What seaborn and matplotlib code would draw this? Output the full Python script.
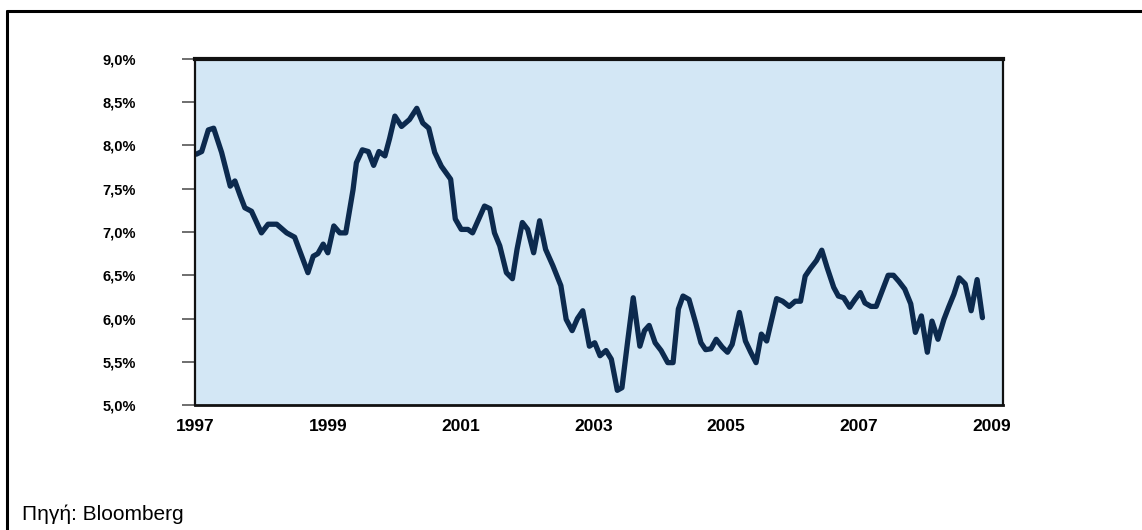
import matplotlib
matplotlib.use('Agg')
import seaborn as sns
import matplotlib.pyplot as plt
from matplotlib.lines import Line2D
import numpy as np
import pandas as pd

# data (decimal year, yield %)
years = [1997.02, 1997.10, 1997.20, 1997.28, 1997.40, 1997.53, 1997.60, 1997.68, 1997.75, 1997.85,
         1998.00, 1998.10, 1998.23, 1998.38, 1998.50, 1998.70, 1998.78, 1998.85, 1998.93, 1999.00,
         1999.09, 1999.18, 1999.27, 1999.38, 1999.43, 1999.52, 1999.61, 1999.69, 1999.77, 1999.86,
         1999.93, 2000.01, 2000.11, 2000.23, 2000.34, 2000.43, 2000.52, 2000.61, 2000.71, 2000.85,
         2000.92, 2001.01, 2001.11, 2001.18, 2001.29, 2001.36, 2001.44, 2001.51, 2001.59, 2001.69,
         2001.78, 2001.85, 2001.93, 2002.01, 2002.10, 2002.19, 2002.28, 2002.39, 2002.51, 2002.59,
         2002.68, 2002.76, 2002.84, 2002.94, 2003.02, 2003.10, 2003.19, 2003.27, 2003.36, 2003.43,
         2003.52, 2003.60, 2003.70, 2003.77, 2003.84, 2003.93, 2004.02, 2004.12, 2004.20, 2004.28,
         2004.35, 2004.44, 2004.54, 2004.62, 2004.69, 2004.77, 2004.85, 2004.94, 2005.02, 2005.09,
         2005.20, 2005.29, 2005.37, 2005.45, 2005.53, 2005.61, 2005.68, 2005.76, 2005.85, 2005.95,
         2006.04, 2006.12, 2006.19, 2006.27, 2006.36, 2006.44, 2006.52, 2006.62, 2006.69, 2006.77,
         2006.86, 2006.94, 2007.02, 2007.09, 2007.18, 2007.26, 2007.35, 2007.44, 2007.52, 2007.60,
         2007.69, 2007.78, 2007.85, 2007.94, 2008.03, 2008.10, 2008.19, 2008.28, 2008.35, 2008.43,
         2008.51, 2008.60, 2008.69, 2008.78, 2008.86]
values = [7.90, 7.93, 8.18, 8.20, 7.92, 7.53, 7.59, 7.42, 7.28, 7.24,
          6.99, 7.09, 7.09, 6.99, 6.94, 6.53, 6.72, 6.75, 6.86, 6.76,
          7.07, 6.99, 6.99, 7.49, 7.80, 7.95, 7.93, 7.77, 7.93, 7.88,
          8.08, 8.34, 8.22, 8.30, 8.43, 8.26, 8.20, 7.92, 7.76, 7.61,
          7.15, 7.03, 7.03, 6.99, 7.18, 7.30, 7.27, 6.99, 6.84, 6.53,
          6.46, 6.80, 7.11, 7.03, 6.76, 7.13, 6.80, 6.61, 6.38, 5.99,
          5.86, 6.00, 6.09, 5.68, 5.72, 5.57, 5.63, 5.53, 5.17, 5.20,
          5.76, 6.24, 5.68, 5.86, 5.92, 5.72, 5.63, 5.49, 5.49, 6.11,
          6.26, 6.22, 5.95, 5.72, 5.64, 5.65, 5.76, 5.67, 5.61, 5.70,
          6.07, 5.74, 5.61, 5.49, 5.82, 5.74, 5.97, 6.23, 6.20, 6.14,
          6.20, 6.20, 6.49, 6.58, 6.67, 6.79, 6.59, 6.36, 6.26, 6.24,
          6.13, 6.22, 6.30, 6.18, 6.14, 6.14, 6.32, 6.50, 6.50, 6.43,
          6.34, 6.17, 5.84, 6.03, 5.61, 5.97, 5.76, 5.99, 6.13, 6.28,
          6.47, 6.40, 6.09, 6.45, 6.01]

x_ticks = [1997, 1999, 2001, 2003, 2005, 2007, 2009]
y_ticks = [5.0, 5.5, 6.0, 6.5, 7.0, 7.5, 8.0, 8.5, 9.0]
y_tick_labels = ['5,0%', '5,5%', '6,0%', '6,5%', '7,0%', '7,5%', '8,0%', '8,5%', '9,0%']
source_text = 'Πηγή: Bloomberg'

df = pd.DataFrame({'year': years, 'value': values})

sns.set_style('white')
plt.rcParams['font.family'] = ['Liberation Sans', 'DejaVu Sans']

fig = plt.figure(figsize=(11.42, 5.30), dpi=100)
ax = fig.add_axes([0.1708, 0.2358, 0.7075, 0.6529])
ax.set_facecolor('#d3e7f5')

sns.lineplot(data=df, x='year', y='value', ax=ax, color='#0c2a4e', linewidth=3.8)

ax.set_xlim(1997, 2009.17)
ax.set_ylim(5.0, 9.0)
ax.set_xticks(x_ticks)
ax.set_xticklabels([str(y) for y in x_ticks], fontsize=12.5, fontweight='bold', color='black')
ax.set_yticks(y_ticks)
ax.set_yticklabels(y_tick_labels, fontsize=10.5, fontweight='bold', color='black')
ax.tick_params(axis='x', length=0, pad=10)
ax.tick_params(axis='y', left=True, length=9.5, width=1.2, color='#555555', pad=33)
ax.set_xlabel('')
ax.set_ylabel('')

for name, sp in ax.spines.items():
    sp.set_visible(True)
    sp.set_color('#111111')
    sp.set_linewidth(1.6)
ax.spines['top'].set_linewidth(3)
ax.spines['bottom'].set_linewidth(2)

# outer frame (top and left edges visible)
fig.add_artist(Line2D([7 / 1142, 1.0], [1 - 11 / 530, 1 - 11 / 530], color='black', linewidth=2.2))
fig.add_artist(Line2D([7 / 1142, 7 / 1142], [0.0, 1 - 11 / 530], color='black', linewidth=2.2))

fig.text(22 / 1142, 1 - 514 / 530, source_text, fontsize=15, va='center', ha='left', color='black')

fig.savefig('out.png', dpi=100)
